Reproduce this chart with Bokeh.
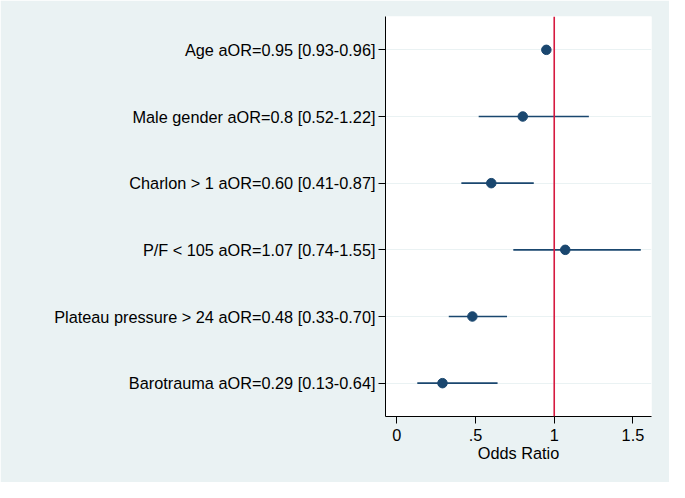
from bokeh.plotting import figure
from bokeh.models import Span, FixedTicker, ColumnDataSource
from bokeh.embed import file_html
from bokeh.resources import INLINE

names = ["Age", "Male gender", "Charlon > 1", "P/F < 105", "Plateau pressure > 24", "Barotrauma"]
or_text = ["0.95", "0.8", "0.60", "1.07", "0.48", "0.29"]
lo_text = ["0.93", "0.52", "0.41", "0.74", "0.33", "0.13"]
hi_text = ["0.96", "1.22", "0.87", "1.55", "0.70", "0.64"]
odds = [0.95, 0.8, 0.60, 1.07, 0.48, 0.29]
lower = [0.93, 0.52, 0.41, 0.74, 0.33, 0.13]
upper = [0.96, 1.22, 0.87, 1.55, 0.70, 0.64]
x_ticks = [0, 0.5, 1, 1.5]
x_tick_labels = ["0", ".5", "1", "1.5"]

labels = [f"{n} aOR={o} [{l}-{h}]" for n, o, l, h in zip(names, or_text, lo_text, hi_text)]
factors = list(reversed(labels))

src = ColumnDataSource(dict(label=labels, odds=odds, lower=lower, upper=upper))

BG = "#EAF2F3"
NAVY = "#1A476F"
FONT = "Liberation Sans"

p = figure(width=669, height=482, y_range=factors, x_range=(-0.072, 1.618),
           output_backend="svg", toolbar_location=None,
           min_border_left=385, min_border_right=18, min_border_top=16, min_border_bottom=66)
p.border_fill_color = BG
p.background_fill_color = "white"
p.outline_line_color = None

p.segment(x0="lower", x1="upper", y0="label", y1="label", source=src,
          line_color=NAVY, line_width=1.6)
p.scatter(x="odds", y="label", source=src, size=9.5, fill_color=NAVY, line_color=NAVY)

p.add_layout(Span(location=1, dimension="height", line_color="#D6193F", line_width=1.6))

p.xgrid.visible = False
p.ygrid.grid_line_color = BG
p.ygrid.grid_line_width = 1

p.xaxis.ticker = FixedTicker(ticks=x_ticks)
p.xaxis.major_label_overrides = {t: s for t, s in zip(x_ticks, x_tick_labels)}
p.xaxis.axis_label = "Odds Ratio"
p.xaxis.minor_tick_line_color = None

for ax in (p.xaxis[0], p.yaxis[0]):
    ax.axis_line_color = "black"
    ax.major_tick_line_color = "black"
    ax.major_tick_in = 0
    ax.major_tick_out = 7
    ax.major_label_text_font = FONT
    ax.major_label_text_font_size = "16.3px"
    ax.major_label_text_color = "black"
    ax.axis_label_text_font = FONT
    ax.axis_label_text_font_size = "16.3px"
    ax.axis_label_text_font_style = "normal"
    ax.axis_label_text_color = "black"

p.xaxis.major_label_standoff = 5
p.xaxis.axis_label_standoff = 0
p.yaxis.major_label_standoff = 3

open("out.html", "w").write(file_html(p, INLINE))
